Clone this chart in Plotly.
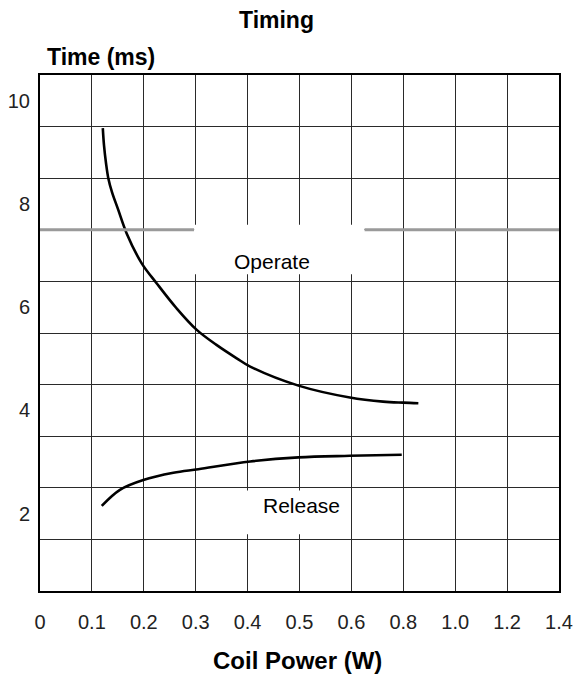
import numpy as np
import plotly.graph_objects as go

# Axis tick labels (the x scale in the source is not uniform)
x_tick_values = [0, 0.1, 0.2, 0.3, 0.4, 0.5, 0.6, 0.8, 1.0, 1.2, 1.4]
x_tick_labels = ["0", "0.1", "0.2", "0.3", "0.4", "0.5", "0.6", "0.8", "1.0", "1.2", "1.4"]
y_tick_values = [2, 4, 6, 8, 10]
y_tick_labels = ["2", "4", "6", "8", "10"]

# Operate time (ms) vs coil power (W)
operate_power = [0.121, 0.1233, 0.1272, 0.1316, 0.1387, 0.1503, 0.167, 0.196, 0.225, 0.263,
                 0.302, 0.340, 0.379, 0.405, 0.498, 0.597, 0.722, 0.80, 0.858]
operate_time = [9.47, 9.14, 8.79, 8.50, 8.23, 7.90, 7.43, 6.85, 6.46, 5.98,
                5.56, 5.27, 5.01, 4.85, 4.48, 4.25, 4.17, 4.15, 4.14]

# Release time (ms) vs coil power (W)
release_power = [0.119, 0.154, 0.199, 0.257, 0.305, 0.405, 0.498, 0.597, 0.794]
release_time = [2.15, 2.46, 2.65, 2.79, 2.86, 3.01, 3.09, 3.12, 3.14]

positions = list(range(len(x_tick_values)))


def to_pos(w):
    return np.interp(w, x_tick_values, positions)


FONT = "Liberation Sans, Arial, sans-serif"
GRID = "#2a2a2a"

fig = go.Figure()
fig.add_trace(go.Scatter(x=to_pos(operate_power), y=operate_time, mode="lines",
                         line=dict(color="black", width=2.6, shape="spline", smoothing=1.0),
                         hoverinfo="skip", showlegend=False))
fig.add_trace(go.Scatter(x=to_pos(release_power), y=release_time, mode="lines",
                         line=dict(color="black", width=2.6, shape="spline", smoothing=1.0),
                         hoverinfo="skip", showlegend=False))

# grey grid line at 7.5 (broken around the label)
for a, b in [(0, 2.97), (6.25, 10)]:
    fig.add_shape(type="line", xref="x", yref="y", x0=a, x1=b, y0=7.5, y1=7.5,
                  line=dict(color="#9a9a9a", width=3), layer="above")
# white boxes behind labels
fig.add_shape(type="rect", xref="x", yref="y", x0=2.97, x1=6.25, y0=6.64, y1=7.6,
              fillcolor="white", line=dict(width=0), layer="above")
fig.add_shape(type="rect", xref="x", yref="y", x0=3.1, x1=5.95, y0=1.6, y1=2.45,
              fillcolor="white", line=dict(width=0), layer="above")

fig.add_annotation(x=4.47, y=6.88, xref="x", yref="y", text="Operate", showarrow=False,
                   font=dict(family=FONT, size=21, color="black"))
fig.add_annotation(x=5.03, y=2.15, xref="x", yref="y", text="Release", showarrow=False,
                   font=dict(family=FONT, size=21, color="black"))

fig.add_annotation(x=276, y=20, xref="paper", yref="paper", text="<b>Timing</b>", showarrow=False,
                   font=dict(family=FONT, size=23, color="black"))
fig.add_annotation(x=101, y=57, xref="paper", yref="paper", text="<b>Time (ms)</b>", showarrow=False,
                   font=dict(family=FONT, size=23, color="black"))
fig.add_annotation(x=297, y=660, xref="paper", yref="paper", text="<b>Coil Power (W)</b>", showarrow=False,
                   font=dict(family=FONT, size=24, color="black"))

# convert pixel-placed annotations to paper coords
W, H = 578, 676
ML, MR, MT, MB = 40, 19, 75, 85
pw, ph = W - ML - MR, H - MT - MB
for ann in fig.layout.annotations:
    if ann.xref == "paper":
        ann.x = (ann.x - ML) / pw
        ann.y = 1 - (ann.y - MT) / ph
        ann.xanchor = "center"
        ann.yanchor = "middle"

TICKFONT = dict(family=FONT, size=20, color="#222222")
fig.update_layout(
    width=W, height=H,
    margin=dict(l=ML, r=MR, t=MT, b=MB, autoexpand=False),
    paper_bgcolor="white", plot_bgcolor="white",
    font=dict(family=FONT, size=20, color="#222222"),
    xaxis=dict(range=[0, 10], tickmode="array", tickvals=positions, ticktext=x_tick_labels,
               showgrid=True, gridcolor=GRID, gridwidth=1.4, zeroline=False,
               showline=True, linecolor="black", linewidth=2, mirror=True,
               ticks="outside", ticklen=12, tickcolor="rgba(0,0,0,0)",
               tickfont=TICKFONT, automargin=False, fixedrange=True),
    yaxis=dict(range=[0.5, 10.5], tickmode="array", tickvals=y_tick_values, ticktext=y_tick_labels,
               showgrid=False, zeroline=False,
               showline=True, linecolor="black", linewidth=2, mirror=True,
               ticks="outside", ticklen=4, tickcolor="rgba(0,0,0,0)",
               tickfont=TICKFONT, automargin=False,
               minor=dict(tickmode="array", tickvals=[v + 0.5 for v in range(11)],
                          showgrid=True, gridcolor=GRID, gridwidth=1.4, ticks=""),
               fixedrange=True),
)

fig.write_html("out.html", config={"displayModeBar": False},
               post_script="document.body.style.margin='0';document.body.style.padding='0';")
